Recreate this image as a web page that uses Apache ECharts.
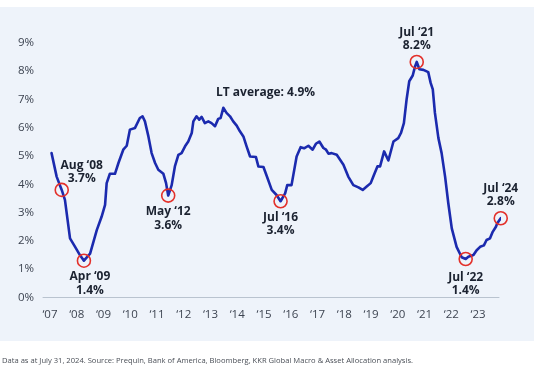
<!DOCTYPE html>
<html>
<head>
<meta charset="utf-8">
<script src="https://cdn.jsdelivr.net/npm/echarts@6/dist/echarts.min.js"></script>
<style>
html,body{margin:0;padding:0;background:#fff;}
#chart{width:534px;height:368px;}
</style>
</head>
<body>
<div id="chart"></div>
<script>
// x position on the axis (in tick-label units: 2007 = '07 label ... 2023 = '23 label)
const positions = [
  2007.06, 2007.25, 2007.44, 2007.56, 2007.75, 2007.94, 2008.12, 2008.27, 2008.50, 2008.75,
  2008.93, 2009.06, 2009.12, 2009.24, 2009.43, 2009.56, 2009.74, 2009.87, 2009.99, 2010.18,
  2010.24, 2010.36, 2010.46, 2010.55, 2010.68, 2010.80, 2010.93, 2011.05, 2011.24, 2011.34,
  2011.42, 2011.55, 2011.67, 2011.80, 2011.92, 2012.05, 2012.17, 2012.30, 2012.36, 2012.48,
  2012.58, 2012.67, 2012.79, 2012.92, 2013.04, 2013.17, 2013.29, 2013.38, 2013.48, 2013.60,
  2013.73, 2013.85, 2013.98, 2014.10, 2014.23, 2014.35, 2014.48, 2014.70, 2014.79, 2014.98,
  2015.10, 2015.29, 2015.47, 2015.62, 2015.79, 2015.87, 2016.03, 2016.22, 2016.37, 2016.50,
  2016.66, 2016.82, 2016.94, 2017.07, 2017.22, 2017.32, 2017.41, 2017.53, 2017.72, 2017.97,
  2018.15, 2018.34, 2018.53, 2018.69, 2018.84, 2018.99, 2019.11, 2019.24, 2019.34, 2019.49,
  2019.65, 2019.84, 2020.02, 2020.12, 2020.23, 2020.33, 2020.43, 2020.56, 2020.65, 2020.71,
  2020.81, 2020.96, 2021.14, 2021.23, 2021.31, 2021.39, 2021.52, 2021.64, 2021.77, 2021.89,
  2022.02, 2022.20, 2022.39, 2022.54, 2022.64, 2022.83, 2022.95, 2023.08, 2023.22, 2023.32,
  2023.45, 2023.55, 2023.67, 2023.72, 2023.85
];
// rate (%)
const rates = [
  5.10, 4.27, 3.80, 3.45, 2.09, 1.79, 1.50, 1.30, 1.55, 2.38,
  2.85, 3.27, 4.04, 4.37, 4.37, 4.75, 5.22, 5.36, 5.93, 5.99,
  6.00, 6.34, 6.40, 6.22, 5.69, 5.10, 4.75, 4.51, 4.37, 4.04,
  3.60, 3.97, 4.63, 5.04, 5.10, 5.34, 5.51, 5.81, 6.22, 6.40,
  6.28, 6.38, 6.16, 6.22, 6.16, 6.05, 6.31, 6.34, 6.70, 6.52,
  6.40, 6.22, 6.07, 5.87, 5.69, 5.34, 4.98, 4.96, 4.63, 4.61,
  4.30, 3.80, 3.62, 3.40, 3.68, 3.97, 3.97, 4.98, 5.31, 5.27,
  5.36, 5.22, 5.43, 5.51, 5.28, 5.22, 5.08, 5.10, 5.04, 4.69,
  4.27, 3.97, 3.89, 3.80, 3.92, 4.04, 4.33, 4.63, 4.63, 5.16,
  4.84, 5.51, 5.63, 5.81, 6.16, 6.99, 7.64, 7.84, 8.17, 8.32,
  8.06, 8.04, 7.96, 7.58, 7.35, 6.52, 5.63, 5.10, 4.27, 3.33,
  2.44, 1.79, 1.42, 1.36, 1.44, 1.50, 1.67, 1.79, 1.84, 2.03,
  2.09, 2.32, 2.50, 2.62, 2.80
];
const tickYears = [2007,2008,2009,2010,2011,2012,2013,2014,2015,2016,2017,2018,2019,2020,2021,2022,2023];
const tickLabels = ["‘07","‘08","‘09","‘10","‘11","‘12","‘13","‘14","‘15","‘16","‘17","‘18","‘19","‘20","‘21","‘22","‘23"];

// annotations
const annIndex  = [2, 7, 30, 63, 99, 113, 124];
const annNames  = ["Aug ‘08","Apr ‘09","May ‘12","Jul ‘16","Jul ‘21","Jul ‘22","Jul ‘24"];
const annValues = [3.7, 1.4, 3.6, 3.4, 8.2, 1.4, 2.8];
const annOffsets = [[20,-18],[6,23],[0,23],[0,23],[0,-23],[0,25],[0,-23]];

const avgText = "LT average: 4.9%";
const footnote = "Data as at July 31, 2024. Source: Prequin, Bank of America, Bloomberg, KKR Global Macro & Asset Allocation analysis.";

const FONT = "'Open Sans', sans-serif";
const TEXT_DARK = '#1b2230';
const lineData = positions.map((x, i) => [x, rates[i]]);

const chart = echarts.init(document.getElementById('chart'), null, {renderer: 'canvas'});
chart.setOption({
  backgroundColor: '#ffffff',
  animation: false,
  graphic: [
    {type: 'rect', z: -10, silent: true, shape: {x: 0, y: 7, width: 534, height: 334}, style: {fill: '#eef3fa'}},
    {type: 'text', z: 10, left: 216, top: 87, style: {text: avgText, font: "bold 12px 'Open Sans', sans-serif", fill: TEXT_DARK}},
    {type: 'text', z: 10, left: 2, top: 357, style: {text: footnote, font: "7.6px 'Open Sans', sans-serif", fill: '#4a4f57'}}
  ],
  grid: {left: 43, right: 35, top: 42.7, bottom: 70.5, containLabel: false},
  xAxis: {
    type: 'value',
    min: 2006.74,
    max: 2023.785,
    splitLine: {show: false},
    axisTick: {show: false},
    axisLine: {show: true, lineStyle: {color: '#b9c3cf', width: 1}},
    axisLabel: {
      customValues: tickYears,
      margin: 11,
      color: '#3d4451',
      fontFamily: FONT,
      fontSize: 11.5,
      formatter: v => {
        const i = tickYears.indexOf(Math.round(v));
        return i >= 0 ? tickLabels[i] : '';
      }
    }
  },
  yAxis: {
    type: 'value',
    min: 0,
    max: 9,
    interval: 1,
    splitLine: {show: false},
    axisLine: {show: false},
    axisTick: {show: false},
    axisLabel: {margin: 9, color: '#3d4451', fontFamily: FONT, fontSize: 11.5, formatter: '{value}%'}
  },
  series: [
    {
      type: 'line',
      data: lineData,
      showSymbol: false,
      symbol: 'none',
      clip: false,
      smooth: false,
      lineStyle: {color: '#1b2aae', width: 2.6, cap: 'round', join: 'round'},
      z: 2
    },
    {
      type: 'scatter',
      data: annIndex.map((idx, k) => ({
        value: [positions[idx], rates[idx]],
        label: {offset: annOffsets[k]}
      })),
      symbol: 'circle',
      symbolSize: 13,
      clip: false,
      itemStyle: {color: 'rgba(0,0,0,0)', borderColor: '#e3302a', borderWidth: 1.6, opacity: 1},
      label: {
        show: true,
        position: 'inside',
        formatter: p => annNames[p.dataIndex] + '\n' + annValues[p.dataIndex].toFixed(1) + '%',
        color: TEXT_DARK,
        textBorderWidth: 0,
        textBorderColor: 'transparent',
        textShadowBlur: 0,
        fontFamily: FONT,
        fontWeight: 'bold',
        fontSize: 12,
        lineHeight: 13.5,
        align: 'center',
        verticalAlign: 'middle'
      },
      z: 3
    }
  ]
});
</script>
</body>
</html>
